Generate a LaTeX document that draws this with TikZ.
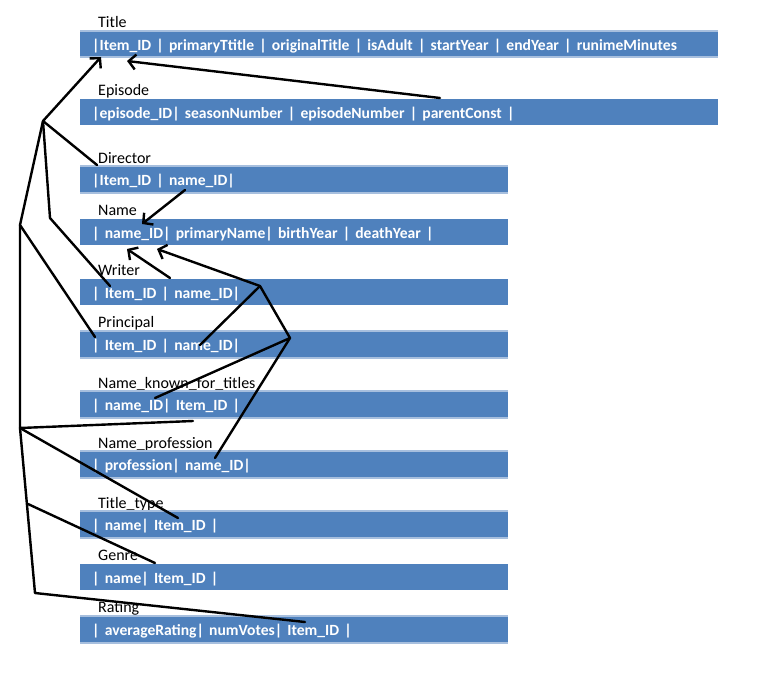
\documentclass[tikz,border=0pt]{standalone}
\usepackage{fontspec}
\setmainfont{Carlito}
\usetikzlibrary{arrows.meta}
\definecolor{barblue}{HTML}{4F81BD}
\definecolor{barrim}{HTML}{A7BFDE}
\begin{document}
\begin{tikzpicture}[x=1pt,y=-1pt,
  bar/.style={fill=barblue, draw=none, anchor=north west, inner ysep=0pt,
    inner xsep=12pt, text=white, align=left, text height=13pt, text depth=0pt,
    font=\fontsize{15.6}{17}\selectfont\bfseries},
  shortbar/.style={bar, minimum width=428pt, text width=404pt},
  longbar/.style={bar, minimum width=638pt, text width=614pt},
  rim/.style={path picture={
      \draw[barrim, line width=4pt] (path picture bounding box.north west) -- (path picture bounding box.north east);
      \draw[barrim, line width=3pt] (path picture bounding box.south west) -- (path picture bounding box.south east);}},
  tbl/.style={anchor=base west, inner sep=0pt, font=\fontsize{16}{18}\selectfont},
  link/.style={line width=2.4pt, black, line cap=round, line join=round},
  arrowlink/.style={link, -{Straight Barb[length=7pt, width=15pt, line width=2.4pt]}}
]
\useasboundingbox (0,0) rectangle (783,696);

% tables: heading above, field bar below
\node[tbl] (lTitle) at (98,27) {Title};
\node[longbar, rim, minimum height=27pt] (bTitle) at (80,30)
  {|Item\_ID | primaryTtitle | originalTitle | isAdult | startYear | endYear | runimeMinutes};

\node[tbl] (lEpisode) at (98,95) {Episode};
\node[longbar, minimum height=26pt] (bEpisode) at (80,99)
  {|episode\_ID| seasonNumber | episodeNumber | parentConst |};

\node[tbl] (lDirector) at (98,163) {Director};
\node[shortbar, rim, minimum height=28pt] (bDirector) at (80,165)
  {|Item\_ID | name\_ID|};

\node[tbl] (lName) at (98,215) {Name};
\node[shortbar, minimum height=26pt] (bName) at (80,219)
  {| name\_ID| primaryName| birthYear | deathYear |};

\node[tbl] (lWriter) at (98,275) {Writer};
\node[shortbar, minimum height=26pt] (bWriter) at (80,279)
  {| Item\_ID | name\_ID|};

\node[tbl] (lPrincipal) at (98,327) {Principal};
\node[shortbar, rim, minimum height=28pt] (bPrincipal) at (80,330)
  {| Item\_ID | name\_ID|};

\node[tbl] (lKnown) at (98,388) {Name\_known\_for\_titles};
\node[shortbar, rim, minimum height=28pt] (bKnown) at (80,390)
  {| name\_ID| Item\_ID |};

\node[tbl] (lProf) at (98,448) {Name\_profession};
\node[shortbar, rim, minimum height=28pt] (bProf) at (80,450)
  {| profession| name\_ID|};

\node[tbl] (lType) at (98,508) {Title\_type};
\node[shortbar, rim, minimum height=28pt] (bType) at (80,510)
  {| name| Item\_ID |};

\node[tbl] (lGenre) at (98,560) {Genre};
\node[shortbar, minimum height=26pt] (bGenre) at (80,564)
  {| name| Item\_ID |};

\node[tbl] (lRating) at (98,612) {Rating};
\node[shortbar, rim, minimum height=28pt] (bRating) at (80,615)
  {| averageRating| numVotes| Item\_ID |};

% junctions of the link lines
\coordinate (jA) at (43,121);
\coordinate (jB) at (50,218);
\coordinate (jC) at (20,225);
\coordinate (jD) at (20,428);
\coordinate (jE) at (35,593);
\coordinate (jF) at (28,504);
\coordinate (jG) at (260,286);
\coordinate (jH) at (290,338);

% link ends at the fields
\coordinate (tItem) at (101,57);
\coordinate (tItemB) at (127,61);
\coordinate (eParent) at (440,98);
\coordinate (dItem) at (97,165);
\coordinate (dName) at (185,190);
\coordinate (nNameA) at (142,224);
\coordinate (nNameB) at (127,249);
\coordinate (nNameC) at (157,249);
\coordinate (wItem) at (110,286);
\coordinate (wName) at (170,278);
\coordinate (pItem) at (95,337);
\coordinate (pName) at (200,345);
\coordinate (kItem) at (193,421);
\coordinate (kName) at (155,398);
\coordinate (fName) at (215,458);
\coordinate (yItem) at (178,518);
\coordinate (gItem) at (155,563);
\coordinate (rItem) at (305,622);

% Item_ID links
\draw[arrowlink] (jA) -- (tItem);
\draw[arrowlink] (eParent) -- (tItemB);
\draw[link] (jA) -- (dItem);
\draw[link] (jA) -- (jB) -- (wItem);
\draw[link] (jA) -- (jC) -- (pItem);
\draw[link] (jC) -- (jD) -- (kItem);
\draw[link] (jD) -- (yItem);
\draw[link] (jD) -- (jE) -- (rItem);
\draw[link] (jF) -- (gItem);

% name_ID links
\draw[arrowlink] (dName) -- (nNameA);
\draw[arrowlink] (wName) -- (nNameB);
\draw[arrowlink] (jG) -- (nNameC);
\draw[link] (jG) -- (pName);
\draw[link] (jG) -- (jH) -- (kName);
\draw[link] (jH) -- (fName);
\end{tikzpicture}
\end{document}
